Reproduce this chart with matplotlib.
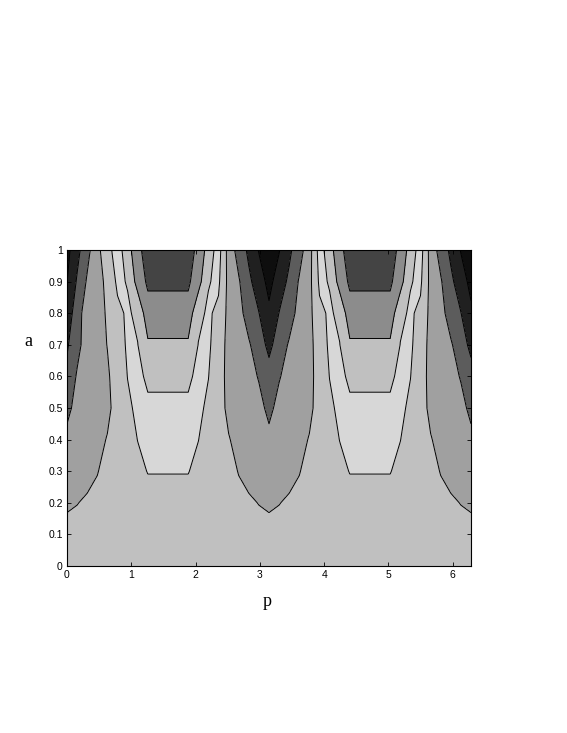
import numpy as np
import matplotlib
matplotlib.use("Agg")
import matplotlib.pyplot as plt
from matplotlib.colors import ListedColormap, BoundaryNorm

# rows: a = 0, 0.1, ..., 1.0 ; half-period columns p = k*pi/20, k = 0..10
a_vals = [0.0, 0.1, 0.2, 0.3, 0.4, 0.5, 0.6, 0.7, 0.8, 0.9, 1.0]
col0 = [4.45, 4.2, 3.91, 3.6, 3.2, 2.8, 2.4, 1.73, 1.2, 0.7, 0.3]
col1 = [4.5, 4.25, 3.98, 3.75, 3.5, 3.25, 2.94, 2.5, 2.02, 1.5, 0.94]
col2 = [4.55, 4.35, 4.1, 3.77, 3.6, 3.45, 3.3, 3.1, 2.6, 2.2, 1.8]
col3 = [4.6, 4.45, 4.25, 3.96, 3.75, 3.6, 3.5, 3.4, 3.3, 3.1, 2.6]
col4 = [4.65, 4.55, 4.45, 4.3, 4.05, 3.8, 3.75, 3.7, 3.7, 3.7, 3.6]
col5 = [4.65, 4.62, 4.6, 4.55, 4.45, 4.35, 4.35, 4.5, 4.8, 5.16, 5.4]
col6 = [4.6, 4.62, 4.65, 4.7, 4.76, 4.82, 5.02, 5.15, 5.12, 4.95, 4.5]
col7 = [4.55, 4.6, 4.7, 4.85, 5.01, 5.2, 5.2, 5.02, 4.8, 3.6, 3.15]
col8 = [4.5, 4.6, 4.8, 5.02, 5.3, 5.15, 4.85, 4.15, 3.4, 2.83, 2.75]
col9 = [4.5, 4.6, 4.8, 5.02, 5.3, 5.15, 4.85, 4.15, 3.4, 2.83, 2.5]
col10 = [4.5, 4.6, 4.8, 5.02, 5.3, 5.15, 4.85, 4.15, 3.4, 2.83, 2.5]
# the first columns at the left edge (p = 0 .. 0.63) are narrower
edge0 = [4.45, 4.2, 3.91, 3.6, 3.2, 2.8, 2.25, 1.875, 1.4, 0.98, 0.7]
edge1 = [4.5, 4.25, 3.98, 3.75, 3.5, 3.25, 3.1, 2.71, 2.55, 2.11, 1.7]
edge2 = [4.55, 4.35, 4.1, 3.77, 3.6, 3.45, 3.35, 3.45, 3.53, 3.12, 2.7]
edge3 = [4.6, 4.45, 4.25, 3.96, 3.75, 3.6, 3.6, 3.7, 3.6, 3.5, 3.7]
edge4 = [4.65, 4.55, 4.45, 4.3, 4.05, 3.8, 3.9, 4.02, 4.12, 4.33, 4.7]

levels = [-1, 1, 2, 3, 4, 5, 7]
band_grays = [14, 32, 92, 160, 192, 215]
center_levels = [-1, 3, 4]
center_grays = [68, 140]

x_ticks = [0, 1, 2, 3, 4, 5, 6]
y_ticks = [0, 0.1, 0.2, 0.3, 0.4, 0.5, 0.6, 0.7, 0.8, 0.9, 1]
y_ticklabels = ["0", "0.1", "0.2", "0.3", "0.4", "0.5", "0.6", "0.7", "0.8", "0.9", "1"]

# build the full table of columns
half = [col0, col1, col2, col3, col4, col5, col6, col7, col8, col9, col10]
edge = [edge0, edge1, edge2, edge3, edge4]
cols = edge + half[5:11] + half[9::-1] + half[1:11] + half[9::-1]
Z = np.array(cols).T
p_grid = np.linspace(0, 2 * np.pi, Z.shape[1])
a_grid = np.array(a_vals)

# windows around the two central blocks
win = np.zeros(Z.shape[1], dtype=bool)
win[6:15] = True
win[26:35] = True
Zc = np.ma.masked_where(np.broadcast_to(~win, Z.shape), Z)

def gray_cmap(vals):
    return ListedColormap([(g / 255, g / 255, g / 255) for g in vals])

cmap = gray_cmap(band_grays)
norm = BoundaryNorm(levels, cmap.N)
cmap_c = gray_cmap(center_grays)
norm_c = BoundaryNorm(center_levels, cmap_c.N)

fig = plt.figure(figsize=(5.67, 7.33), dpi=100)
ax = fig.add_axes([67 / 567, 1 - 566 / 733, 404 / 567, 316 / 733])
ax.contourf(p_grid, a_grid, Z, levels=levels, cmap=cmap, norm=norm)
ax.contourf(p_grid, a_grid, Zc, levels=center_levels, cmap=cmap_c, norm=norm_c)
ax.contour(p_grid, a_grid, Z, levels=levels[1:-1], colors="black", linewidths=0.7)

ax.set_xlim(0, 2 * np.pi)
ax.set_ylim(0, 1)
ax.set_xticks(x_ticks)
ax.set_yticks(y_ticks)
ax.set_yticklabels(y_ticklabels)
ax.tick_params(direction="in", top=True, right=True, length=3, width=0.6,
               labelsize=7.5, pad=3)
for lab in ax.get_xticklabels() + ax.get_yticklabels():
    lab.set_fontfamily("Liberation Sans")
for s in ax.spines.values():
    s.set_linewidth(0.8)

fig.text(28 / 567, 1 - 341 / 733, "a", fontsize=13, family="Liberation Serif",
         ha="center", va="center")
fig.text(267 / 567, 1 - 602 / 733, "p", fontsize=13, family="Liberation Serif",
         ha="center", va="center")

fig.savefig("out.png", dpi=100)
